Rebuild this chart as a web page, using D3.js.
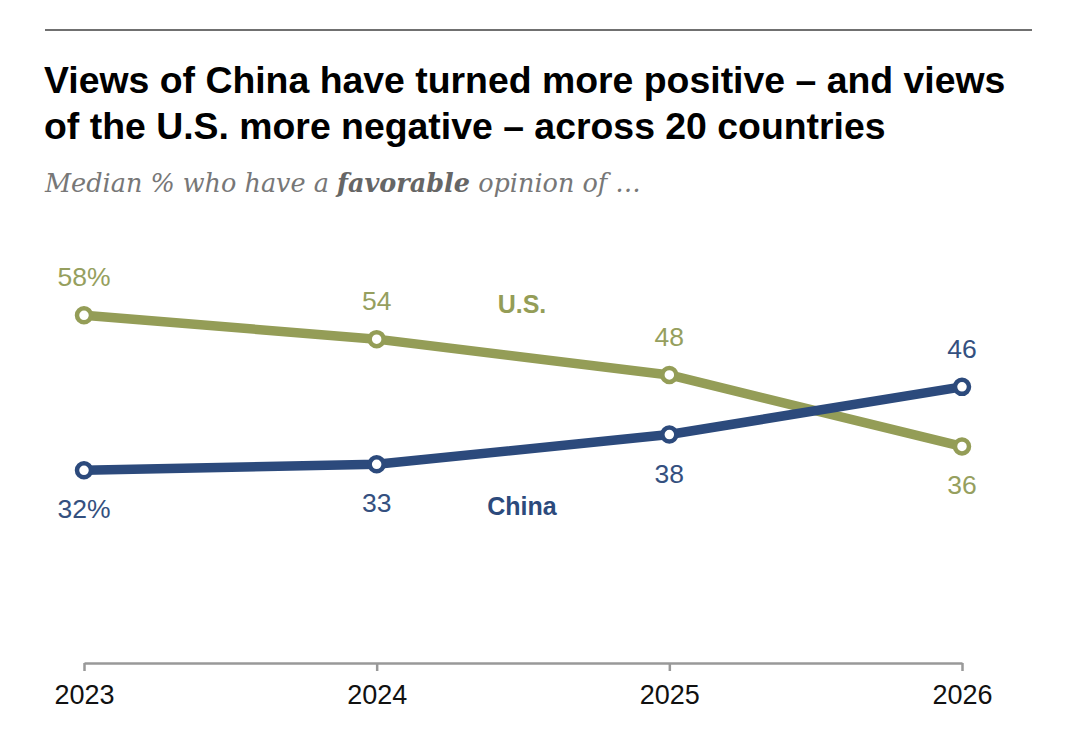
<!DOCTYPE html>
<html><head><meta charset="utf-8">
<script src="https://cdn.jsdelivr.net/npm/d3@7"></script>
<style>
body{margin:0;background:#fff;}
svg{display:block;}
</style></head>
<body>
<svg id="c" width="1080" height="745"></svg>
<script>
const years = ["2023","2024","2025","2026"];
const usValues = [58,54,48,36];
const chinaValues = [32,33,38,46];
const usLabels = ["58%","54","48","36"];
const chinaLabels = ["32%","33","38","46"];
const titleLines = ["Views of China have turned more positive \u2013 and views","of the U.S. more negative \u2013 across 20 countries"];

const US_COLOR = "#949d57", CN_COLOR = "#2c4a7c";
const SANS = "'Liberation Sans', Arial, sans-serif";
const svg = d3.select("#c");

svg.append("line").attr("x1",45).attr("x2",1032).attr("y1",30).attr("y2",30)
  .attr("stroke","#707070").attr("stroke-width",2);

const t = svg.append("text").attr("font-family",SANS)
  .attr("font-weight","bold").attr("font-size",37.4).attr("fill","#000");
titleLines.forEach((s,i)=>t.append("tspan").attr("x",44).attr("y",93+i*46).text(s));

const sub = svg.append("text").attr("x",45).attr("y",192)
  .attr("font-family","Georgia, 'DejaVu Serif', serif").attr("font-style","italic")
  .attr("font-size",25.5).attr("fill","#777");
sub.append("tspan").text("Median % who have a ");
sub.append("tspan").attr("font-weight","bold").attr("fill","#666").text("favorable");
sub.append("tspan").text(" opinion of \u2026");

const x = d3.scalePoint().domain(years).range([84,962]);
const y = d3.scaleLinear().domain([0,100]).range([661,65]);

const axis = svg.append("g").attr("transform","translate(0,663)")
  .call(d3.axisBottom(x).tickSize(8).tickSizeOuter(0).tickPadding(14));
axis.select(".domain").attr("stroke","#999").attr("stroke-width",2.5);
axis.selectAll(".tick line").attr("stroke","#999").attr("stroke-width",2.5);
axis.selectAll(".tick text").attr("font-family",SANS)
  .attr("font-size",27).attr("fill","#111").attr("dy","0.71em");

const line = d3.line().x((d,i)=>x(years[i])).y(d=>y(d));

function series(vals, color) {
  svg.append("path").datum(vals).attr("d",line).attr("fill","none")
    .attr("stroke",color).attr("stroke-width",9.5).attr("stroke-linejoin","round");
  svg.selectAll(null).data(vals).enter().append("circle")
    .attr("cx",(d,i)=>x(years[i])).attr("cy",d=>y(d)).attr("r",7)
    .attr("fill","#fff").attr("stroke",color).attr("stroke-width",4.5);
}
function labelsFor(vals, color, labels, pos){
  svg.selectAll(null).data(vals).enter().append("text")
    .attr("x",(d,i)=>x(years[i])).attr("y",(d,i)=>y(d)+(pos[i]?-29:48))
    .attr("text-anchor","middle").attr("font-family",SANS)
    .attr("font-size",26.5).attr("fill",color).text((d,i)=>labels[i]);
}
series(usValues, US_COLOR);
series(chinaValues, CN_COLOR);
labelsFor(usValues, "#969f5e", usLabels, [true,true,true,false]);
labelsFor(chinaValues, "#34507f", chinaLabels, [false,false,false,true]);

svg.append("text").attr("x",522).attr("y",313).attr("text-anchor","middle")
  .attr("font-family",SANS).attr("font-weight","bold")
  .attr("font-size",25).attr("fill","#949d57").text("U.S.");
svg.append("text").attr("x",522).attr("y",515).attr("text-anchor","middle")
  .attr("font-family",SANS).attr("font-weight","bold")
  .attr("font-size",25).attr("fill",CN_COLOR).text("China");
</script>
</body></html>
